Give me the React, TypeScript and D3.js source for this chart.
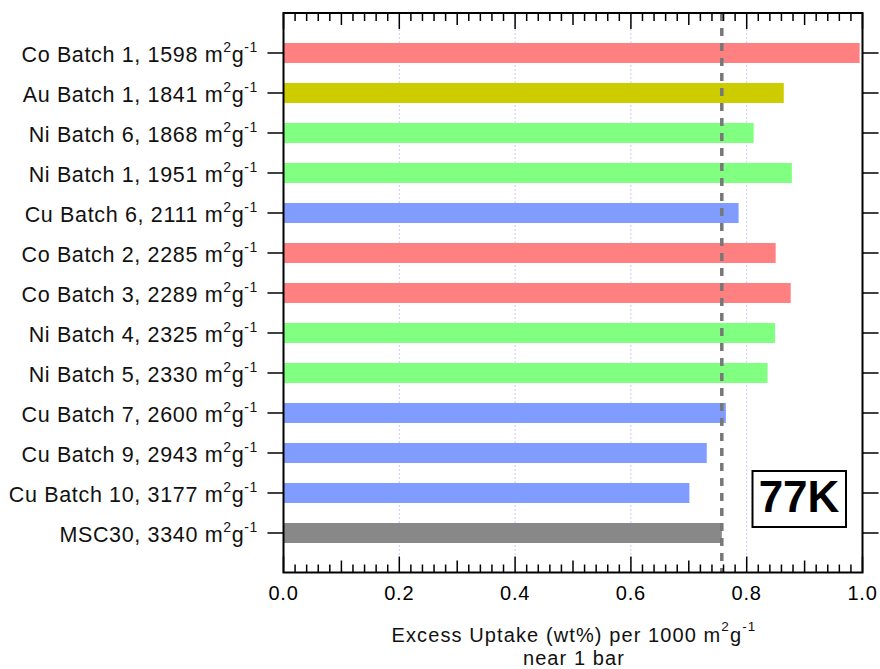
import React from "react";
import * as d3 from "d3";

const metals = ["Co", "Au", "Ni", "Ni", "Cu", "Co", "Co", "Ni", "Ni", "Cu", "Cu", "Cu", "MSC30"];
const batches = ["1", "1", "6", "1", "6", "2", "3", "4", "5", "7", "9", "10", ""];
const surfaceAreas = [1598, 1841, 1868, 1951, 2111, 2285, 2289, 2325, 2330, 2600, 2943, 3177, 3340];
const uptakeValues = [0.995, 0.864, 0.812, 0.878, 0.786, 0.85, 0.876, 0.849, 0.836, 0.764, 0.731, 0.701, 0.757];
const referenceValue = 0.757;
const xTickLabels = ["0.0", "0.2", "0.4", "0.6", "0.8", "1.0"];
const metalColors: Record<string, string> = {
  Co: "#ff8080",
  Au: "#cccc00",
  Ni: "#80ff80",
  Cu: "#809cff",
  MSC30: "#888888",
};

const W = 880;
const H = 669;
const left = 283.5;
const right = 862.5;
const top = 13;
const bottom = 572.5;
const FONT = "'Liberation Sans', Arial, Helvetica, sans-serif";

export default function App() {
  const ids = metals.map((_, i) => String(i));
  const x = d3.scaleLinear().domain([0, 1]).range([left, right]);
  const y = d3.scalePoint<string>().domain(ids).range([top + 40, top + 40 * 13]);

  const ticks = d3.range(0, 51).map((k) => k / 50);
  const tickLen = (k: number) => (k % 10 === 0 ? 16 : k % 5 === 0 ? 12 : 8);

  return (
    <svg
      width={W}
      height={H}
      style={{ position: "absolute", left: 0, top: 0, background: "#fff" }}
      fontFamily={FONT}
    >
      {/* grid */}
      {[0.2, 0.4, 0.6, 0.8].map((v) => (
        <line
          key={"g" + v}
          x1={x(v)}
          x2={x(v)}
          y1={top}
          y2={bottom}
          stroke="#c8c8ff"
          strokeWidth={1}
          strokeDasharray="2,2"
        />
      ))}
      {/* bars */}
      {uptakeValues.map((v, i) => (
        <rect
          key={"b" + i}
          x={x(0)}
          y={(y(ids[i]) as number) - 10}
          width={x(v) - x(0)}
          height={20}
          fill={metalColors[metals[i]]}
        />
      ))}
      {/* reference dashed line */}
      <line
        x1={x(referenceValue)}
        x2={x(referenceValue)}
        y1={top}
        y2={bottom}
        stroke="#777"
        strokeWidth={3.5}
        strokeDasharray="8,7"
      />
      {/* frame */}
      <rect x={left} y={top} width={right - left} height={bottom - top} fill="none" stroke="#000" strokeWidth={2} />
      {/* x ticks */}
      {ticks.map((v, k) => (
        <g key={"t" + k}>
          <line x1={x(v)} x2={x(v)} y1={top} y2={top + tickLen(k)} stroke="#000" strokeWidth={1.5} />
          <line x1={x(v)} x2={x(v)} y1={bottom} y2={bottom - tickLen(k)} stroke="#000" strokeWidth={1.5} />
        </g>
      ))}
      {xTickLabels.map((t, i) => (
        <text key={"xl" + i} x={x(i * 0.2)} y={599.5} textAnchor="middle" fontSize={20} letterSpacing={0.8} fill="#000">
          {t}
        </text>
      ))}
      {/* y ticks and labels */}
      {ids.map((id, i) => {
        const cy = y(id) as number;
        const name = metals[i] === "MSC30" ? "MSC30" : `${metals[i]} Batch ${batches[i]}`;
        return (
          <g key={"y" + i}>
            <line x1={left - 16} x2={left} y1={cy} y2={cy} stroke="#000" strokeWidth={1.5} />
            <line x1={right} x2={right + 16} y1={cy} y2={cy} stroke="#000" strokeWidth={1.5} />
            <text x={258} y={cy + 8.5} textAnchor="end" fontSize={21.5} letterSpacing={0.65} fill="#111">
              {`${name}, ${surfaceAreas[i]} m`}
              <tspan fontSize={14} dy={-10}>2</tspan>
              <tspan dy={10}>g</tspan>
              <tspan fontSize={14} dy={-10}>-1</tspan>
            </text>
          </g>
        );
      })}
      {/* axis title (two lines) */}
      <text x={574} y={642} textAnchor="middle" fontSize={20} letterSpacing={1.1} fill="#111">
        <tspan x={574}>Excess Uptake (wt%) per 1000 m</tspan>
        <tspan fontSize={13.5} dy={-11}>2</tspan>
        <tspan dy={11}>g</tspan>
        <tspan fontSize={13.5} dy={-11}>-1</tspan>
        <tspan x={574} dy={33.5}>near 1 bar</tspan>
      </text>
      {/* 77K box */}
      <rect x={752.5} y={471} width={93.5} height={56} fill="#fff" stroke="#000" strokeWidth={2} />
      <text x={799} y={512} textAnchor="middle" fontSize={44} fontWeight="bold" fill="#000">
        77K
      </text>
    </svg>
  );
}
